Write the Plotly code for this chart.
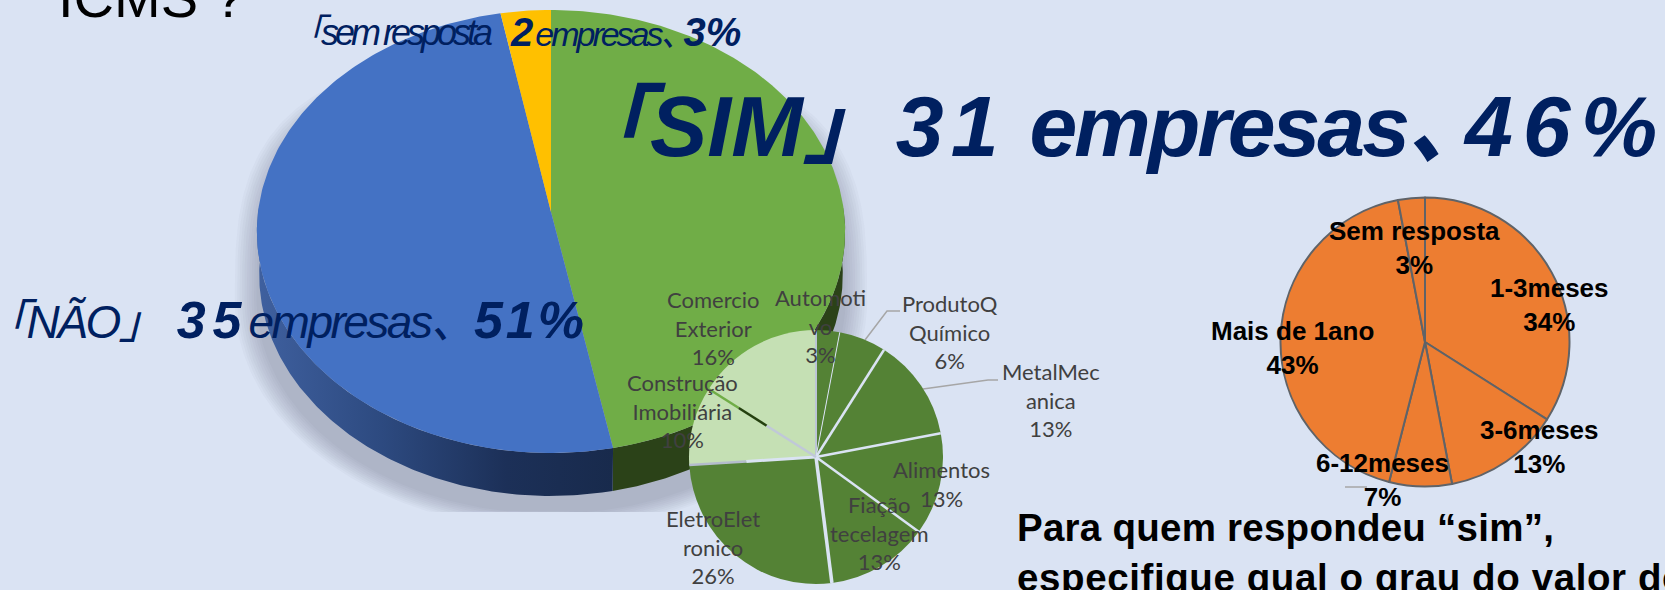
import numpy as np
import plotly.graph_objects as go

# ---------- data ----------
main_labels = ["SIM", "NÃO", "sem resposta"]
main_counts = [31, 35, 2]
main_pct_labels = [46, 51, 3]
main_values = [46.9, 50.1, 3.0]          # slice sizes
main_colors = ["#70AD47", "#4472C4", "#FFC000"]

sector_labels = ["Automoti<br>vo", "ProdutoQ<br>Químico", "MetalMec<br>anica", "Alimentos",
                 "Fiação<br>tecelagem", "EletroElet<br>ronico", "Construção<br>Imobiliária",
                 "Comercio<br>Exterior"]
sector_values = [3, 6, 13, 13, 13, 26, 10, 16]
sector_colors = ["#548235"] * 6 + ["#C5E0B4"] * 2

period_labels = ["1-3meses", "3-6meses", "6-12meses", "Mais de 1ano", "Sem resposta"]
period_values = [34, 13, 7, 43, 3]

BG = "#DAE3F3"
W, H = 1665, 590
NAVY = "#002060"
SANS = "Liberation Sans, Noto Sans CJK JP, sans-serif"

# ---------- geometry (pixel-like axes) ----------
CX, CY = 551, 212
A, B, K = 293, 219.8, 0.088
DEPTH = 43


def face(theta):
    u, v = np.sin(theta), -np.cos(theta)
    d = 1 - K * v
    return CX + A * u / d, CY + B * v / d


def pct2rad(p):
    return np.asarray(p) * 2 * np.pi / 100


fig = go.Figure()

# soft shadow under the big pie
t = np.linspace(0, 2 * np.pi, 400)
for s in np.linspace(0.95, 1.02, 10):
    c = np.cos(t)
    sn = np.sin(t)
    sx = np.where(c > 0, np.sign(sn) * np.abs(sn) ** (2 / 3), sn)
    sy = np.where(c > 0, -240 * c ** (2 / 3), -225 * c)
    fig.add_trace(go.Scatter(x=551 + 310 * s * sx, y=np.minimum(300 + s * sy, 512), mode="lines", fill="toself",
                             line=dict(width=0), fillcolor="rgba(71,84,106,0.034)", hoverinfo="skip"))

# side wall
edges = np.concatenate([[0], np.cumsum(main_values)])
green_end = pct2rad(edges[1])


def wall(t0, t1):
    tt = np.linspace(t0, t1, 160)
    x, y = face(tt)
    lx = CX + (x - CX) * 0.992
    return np.r_[x, lx[::-1], x[0]], np.r_[y, (y + DEPTH)[::-1], y[0]]


wx, wy = wall(np.pi / 2 - 0.02, green_end)
fig.add_trace(go.Scatter(x=wx, y=wy, mode="lines", fill="toself", line=dict(width=0),
                         fillcolor="#2B4218", hoverinfo="skip"))
wx, wy = wall(green_end, 3 * np.pi / 2 + 0.02)
fig.add_trace(go.Scatter(x=wx, y=wy, mode="lines", fill="toself", line=dict(width=0),
                         fillcolor="#22365F", hoverinfo="skip",
                         fillgradient=dict(type="horizontal", colorscale=[
                             [0, "#3F609F"], [0.35, "#2D4A80"], [0.7, "#1C3058"], [1, "#182A4C"]])))

# top face
for i, col in enumerate(main_colors):
    tt = np.linspace(pct2rad(edges[i]), pct2rad(edges[i + 1]), 200)
    x, y = face(tt)
    fig.add_trace(go.Scatter(x=np.r_[CX, x, CX], y=np.r_[CY, y, CY], mode="lines", fill="toself",
                             line=dict(width=0), fillcolor=col, hoverinfo="skip"))

# leader lines
leaders = [([865, 887, 900], [340, 311, 311]), ([923, 988, 998], [389, 380, 380]),
           ([1345, 1367], [487, 487])]
for lx, ly in leaders:
    fig.add_trace(go.Scatter(x=lx, y=ly, mode="lines", line=dict(color="#A6A6A6", width=1.5),
                             hoverinfo="skip"))


def dom(cx, cy, r):
    return dict(x=[(cx - r) / W, (cx + r) / W], y=[1 - (cy + r) / H, 1 - (cy - r) / H])


# sector pie
SX, SY, SR = 816, 457, 127
fig.add_trace(go.Pie(labels=[s.replace("<br>", "") for s in sector_labels], values=sector_values,
                     sort=False, direction="clockwise", rotation=0, domain=dom(SX, SY, SR),
                     textinfo="none", hoverinfo="skip",
                     marker=dict(colors=sector_colors, line=dict(width=0))))

# period pie
fig.add_trace(go.Pie(labels=period_labels, values=period_values, sort=False, direction="clockwise",
                     rotation=0, domain=dom(1425, 342, 144.5), textinfo="none", hoverinfo="skip",
                     marker=dict(colors=["#ED7D31"] * 5, line=dict(color="#5F6368", width=2))))

# gaps between the sector slices, running along each slice boundary
boundary_pct = np.r_[0, np.cumsum(sector_values)[:-1]]
gap_styles = [
    [(1.0, 0.0, "#BCC5D6", 2)],
    [(1.0, 0.0, BG, 1)],
    [(1.0, 0.0, BG, 2.5)],
    [(1.0, 0.0, BG, 2.5)],
    [(1.0, 0.0, BG, 2.5)],
    [(1.0, 0.0, BG, 3.5)],
    [(1.0, 0.55, "#B4BCCC", 2.5), (0.55, 0.0, BG, 3)],
    [(1.0, 0.72, "#70AD47", 2.5), (0.72, 0.46, "#24400F", 2.5), (0.46, 0.0, "#C0C8D8", 2.5)],
]
shapes = []
for p, parts in zip(boundary_pct, gap_styles):
    ang = pct2rad(p)
    for r0, r1, c, w in parts:
        shapes.append(dict(type="line", layer="above", line=dict(color=c, width=w),
                           x0=SX + SR * r0 * np.sin(ang), y0=SY - SR * r0 * np.cos(ang),
                           x1=SX + SR * r1 * np.sin(ang), y1=SY - SR * r1 * np.cos(ang)))


def ann(x, y, text, size, color, family=SANS, xanchor="center", yanchor="middle", align="center"):
    fig.add_annotation(x=x, y=y, text=text, showarrow=False, xanchor=xanchor, yanchor=yanchor, align=align,
                       font=dict(size=size, color=color, family=family), xref="x", yref="y",
                       borderpad=0, borderwidth=0)


def thin(t, size, ls):
    return f'<span style="font-size:{size}px;letter-spacing:{ls}px"><i>{t}</i></span>'


def bold(t, ls=0):
    return f'<span style="letter-spacing:{ls}px"><b><i>{t}</i></b></span>'


# headline labels
ann(58, 29, "ICMS ?", 56, "#000000", xanchor="left", yanchor="bottom")
ann(289, 32, thin(f"「{main_labels[2]}", 36, -4), 36, NAVY, xanchor="left")
ann(510, 32, bold(main_counts[2], 2) + thin("empresas", 34, -3) + thin("、", 34, -11)
    + bold(f"{main_pct_labels[2]}%"), 40, NAVY, xanchor="left")
ann(564, 126, bold("「" + main_labels[0]) + bold("」", -17) + " " + bold(main_counts[0], 7) + " " + bold("empresas", -3)
    + bold("、", -28) + bold(f"{main_pct_labels[0]}%", 10), 86, NAVY, xanchor="left")
ann(285, 320, thin(f"「{main_labels[1]}」", 46, -2.5) + " " + bold(main_counts[1], 7) + thin("empresas、", 46, -2.5)
    + bold(f"{main_pct_labels[1]}%", 3), 52, NAVY)

# sector labels
sector_pos = [(820, 326), (950, 332), (1051, 400), (941, 484), (879, 533), (713, 547), (682, 411), (713, 328)]
for (x, y), lab, v in zip(sector_pos, sector_labels, sector_values):
    ann(x, y, f"{lab}<br>{v}%", 22, "#404040", family="Lato")

# period labels
period_pos = [(1549, 305), (1539, 447), (1382, 480), (1292, 348), (1414, 248)]
for (x, y), lab, v in zip(period_pos, period_labels, period_values):
    ann(x, y, f"<b>{lab}<br>{v}%</b>", 26, "#000000")

ann(1017, 552, '<b><span style="letter-spacing:0.25px">Para quem respondeu “sim”,</span><br>'
    '<span style="letter-spacing:0.6px">especifique qual o grau do valor do</span></b>', 38.5, "#000000",
    xanchor="left", align="left")

fig.update_layout(width=W, height=H, margin=dict(l=0, r=0, t=0, b=0), paper_bgcolor=BG, plot_bgcolor=BG,
                  showlegend=False, shapes=shapes,
                  xaxis=dict(range=[0, W], visible=False, fixedrange=True),
                  yaxis=dict(range=[H, 0], visible=False, fixedrange=True))

fig.write_html("out.html", config={"displayModeBar": False},
               post_script="document.body.style.margin='0';document.body.style.overflow='hidden';")
